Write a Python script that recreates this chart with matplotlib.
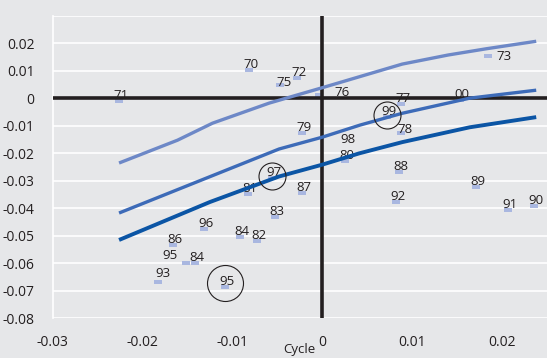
import matplotlib.pyplot as plt
from matplotlib.transforms import offset_copy

plt.rcParams['font.family'] = ['Open Sans', 'DejaVu Sans']

#
# Fitted curves (x, y) for the three bands
upper_x = [-0.0226, -0.0161, -0.0122, -0.0059, 0.0, 0.0089, 0.0140, 0.0183, 0.0238]
upper_y = [-0.0236, -0.0153, -0.0091, -0.0018, 0.0038, 0.0124, 0.0157, 0.0180, 0.0207]

middle_x = [-0.0226, -0.0048, 0.0, 0.0042, 0.0089, 0.0164, 0.0238]
middle_y = [-0.0418, -0.0185, -0.0142, -0.0098, -0.0055, 0.0000, 0.0029]

lower_x = [-0.0226, -0.0125, -0.0048, 0.0, 0.0041, 0.0089, 0.0164, 0.0238]
lower_y = [-0.0516, -0.0378, -0.0285, -0.0242, -0.0201, -0.0160, -0.0106, -0.0069]

#
# Yearly observations
years = ['71', '70', '75', '72', '76', '73', '77', '00', '79', '78', '99', '98',
         '80', '88', '97', '81', '87', '92', '89', '91', '90', '83', '96', '84',
         '82', '86', '95', '84', '93', '95']
obs_x = [-0.0226, -0.0082, -0.0047, -0.0028, -0.0004, 0.0184, 0.0088, 0.0153,
         -0.0022, 0.0088, 0.0072, 0.0025, 0.0025, 0.0085, -0.0056, -0.0083,
         -0.0023, 0.0082, 0.0171, 0.0207, 0.0236, -0.0053, -0.0131, -0.0092,
         -0.0073, -0.0166, -0.0152, -0.0142, -0.0183, -0.0108]
obs_y = [-0.0011, 0.0102, 0.0047, 0.0073, 0.0011, 0.0153, -0.0022, -0.0007,
         -0.0127, -0.0127, -0.0069, -0.0229, -0.0229, -0.0269, -0.0291, -0.0349,
         -0.0346, -0.0378, -0.0324, -0.0408, -0.0393, -0.0433, -0.0477, -0.0506,
         -0.0520, -0.0535, -0.0600, -0.0600, -0.0669, -0.0688]

# index of the circled years -> circle radius (px)
circled = {10: 13.5, 14: 13.5, 29: 18}

x_ticks = [-0.03, -0.02, -0.01, 0, 0.01, 0.02]
x_labels = ['-0.03', '-0.02', '-0.01', '0', '0.01', '0.02']
y_ticks = [0.02, 0.01, 0, -0.01, -0.02, -0.03, -0.04, -0.05, -0.06, -0.07, -0.08]
y_labels = ['0.02', '0.01', '0', '-0.01', '-0.02', '-0.03', '-0.04', '-0.05',
            '-0.06', '-0.07', '-0.08']

bg = '#e6e7e9'
ink = '#231f20'

fig = plt.figure(figsize=(5.47, 3.58), dpi=100, facecolor=bg)
ax = fig.add_axes([0.096, 0.1117, 0.904, 0.8444], facecolor=bg)

# label offsets in pixels (default sits just above-right of the marker)
label_offset = {4: (16, 3), 5: (9, 0), 26: (-16, 8), 28: (5, 9), 11: (3, 22),
                2: (4, 3), 9: (4, 4)}

rect = [(-2, -1), (2, -1), (2, 1), (-2, 1), (-2, -1)]
ax.plot(obs_x, obs_y, linestyle='none', marker=rect, markersize=6,
        color='#a9b7e0', markeredgewidth=0, zorder=2)

for i, (x, y, t) in enumerate(zip(obs_x, obs_y, years)):
    dx, dy = label_offset.get(i, (2, 6))
    ha = 'left' if i in (4, 5) else 'center'
    ax.annotate(t, (x, y), xytext=(dx, dy), textcoords='offset pixels',
                ha=ha, va='center', fontsize=9.5, color=ink, zorder=2)

for i, r in circled.items():
    tr = offset_copy(ax.transData, fig=fig, x=0, y=2 if r < 15 else 4, units='dots')
    ax.plot(obs_x[i], obs_y[i], marker='o', markersize=2 * r * 0.72,
            markerfacecolor='none', markeredgecolor=ink, markeredgewidth=0.8,
            transform=tr, zorder=5)

# zero axes
ax.axhline(0, color=ink, lw=2.6, zorder=3)
ax.axvline(0, color=ink, lw=2.6, zorder=3)

ax.plot(upper_x, upper_y, color='#6d88c7', lw=2.4, zorder=4, solid_capstyle='butt')
ax.plot(middle_x, middle_y, color='#3d6bb8', lw=2.4, zorder=4, solid_capstyle='butt')
ax.plot(lower_x, lower_y, color='#0b55a5', lw=2.8, zorder=4, solid_capstyle='butt')

ax.set_xlim(-0.03, 0.025)
ax.set_ylim(-0.08, 0.03)
ax.set_yticks(y_ticks + [0.03])
ax.set_yticklabels(y_labels + [''])
ax.set_xticks(x_ticks)
ax.set_xticklabels(x_labels)
ax.grid(axis='y', color='white', lw=1.2, zorder=1)
ax.set_axisbelow(True)
ax.tick_params(length=0, labelsize=10, labelcolor=ink)
ax.tick_params(axis='y', pad=13)
ax.tick_params(axis='x', pad=12)
for s in ['top', 'right', 'bottom']:
    ax.spines[s].set_visible(False)
ax.spines['left'].set_color('white')
ax.spines['left'].set_linewidth(1.2)
ax.set_xlabel('Cycle', fontsize=9.5, color=ink, labelpad=-5)

fig.savefig('out.png', dpi=100, facecolor=bg)
